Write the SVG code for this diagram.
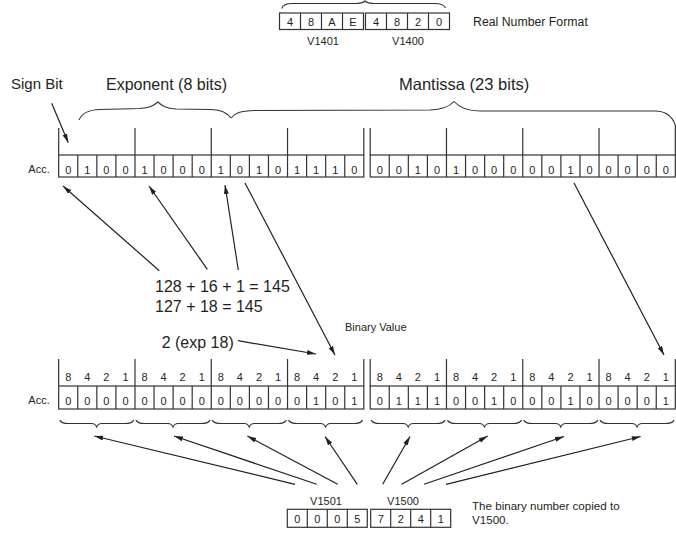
<svg xmlns="http://www.w3.org/2000/svg" width="676" height="535" viewBox="0 0 676 535">
<style>
text{font-family:"Liberation Sans",Arial,sans-serif;fill:#231f20}
.big{font-size:16px}
.sm{font-size:11px}
.d{font-size:11px;text-anchor:middle}
.c{text-anchor:middle}
.box{fill:#fff;stroke:#333;stroke-width:1.2}
.ln{fill:none;stroke:#333;stroke-width:1.2}
.br{fill:none;stroke:#333;stroke-width:1.1}
.ar{fill:none;stroke:#231f20;stroke-width:1.2;marker-end:url(#ah)}
</style>
<defs>
<marker id="ah" viewBox="0 0 10 6" refX="10" refY="3" markerWidth="9" markerHeight="5.5" markerUnits="userSpaceOnUse" orient="auto">
<path d="M0,0.3 L10,3 L0,5.7 z" fill="#231f20"/>
</marker>
<path id="brc" d="M1,0 C2,3 5,3.5 10,3.5 L33,3.5 C36,3.5 37,4.5 38,7 C39,4.5 40,3.5 43,3.5 L66,3.5 C71,3.5 74,3 75,0" class="br"/>
</defs>

<g id="real-format">
<path class="br" d="M281.7,8.5 C283,4.5 286,3.5 292,3.5 L355,3.5 C361,3.5 363,3 365,1 C367,3 369,3.5 375,3.5 L435,3.5 C441,3.5 444,5 445.5,8"/>
<rect class="box" x="279.5" y="13" width="84" height="16.5"/>
<rect class="box" x="365.5" y="13" width="84" height="16.5"/>
<path class="ln" d="M300.5,13V29.5M321.5,13V29.5M342.5,13V29.5M386.5,13V29.5M407.5,13V29.5M428.5,13V29.5"/>
<text class="d" x="290" y="26">4</text><text class="d" x="311" y="26">8</text><text class="d" x="332" y="26">A</text><text class="d" x="353" y="26">E</text>
<text class="d" x="376" y="26">4</text><text class="d" x="397" y="26">8</text><text class="d" x="418" y="26">2</text><text class="d" x="439" y="26">0</text>
<text class="sm c" x="323" y="45">V1401</text>
<text class="sm c" x="408" y="45">V1400</text>
<text x="473" y="26" style="font-size:12.3px">Real Number Format</text>
</g>

<g id="labels-top">
<text x="11" y="89" style="font-size:15px">Sign Bit</text>
<text class="big" x="106" y="90">Exponent (8 bits)</text>
<text x="399" y="90" style="font-size:16.5px">Mantissa (23 bits)</text>
<path class="br" d="M79,120 C82,113 88,110 100,109.5 L140,108.5 C150,108 153,106 158,102 C162,106 166,108.5 176,109 L210,109.5 C222,110 227,113 231,118"/>
<path class="br" d="M231,118 C235,113 240,111 255,110.5 L430,110 C444,109.5 450,106 454,101.5 C458,106 465,111 480,111 L655,111 C665,111 672,116 675.3,125"/>
</g>

<g id="acc-top">
<text class="sm" x="28.3" y="173">Acc.</text>
<path class="ln" d="M58.7,128V155M134.98,128V155M211.26,128V155M287.54,128V155M363.82,128V155M370.2,128V155M446.48,128V155M522.76,128V155M599.04,128V155M675.32,125V155"/>
<rect class="box" x="58.7" y="155" width="305.12" height="22"/>
<rect class="box" x="370.2" y="155" width="305.12" height="22"/>
<path class="ln" d="M77.77,155v22M96.84,155v22M115.91,155v22M134.98,155v22M154.05,155v22M173.12,155v22M192.19,155v22M211.26,155v22M230.33,155v22M249.4,155v22M268.47,155v22M287.54,155v22M306.61,155v22M325.68,155v22M344.75,155v22M389.27,155v22M408.34,155v22M427.41,155v22M446.48,155v22M465.55,155v22M484.62,155v22M503.69,155v22M522.76,155v22M541.83,155v22M560.9,155v22M579.97,155v22M599.04,155v22M618.11,155v22M637.18,155v22M656.25,155v22"/>
<text class="d" y="174"><tspan x="68.24">0</tspan><tspan x="87.31">1</tspan><tspan x="106.38">0</tspan><tspan x="125.45">0</tspan><tspan x="144.52">1</tspan><tspan x="163.59">0</tspan><tspan x="182.66">0</tspan><tspan x="201.73">0</tspan><tspan x="220.8">1</tspan><tspan x="239.87">0</tspan><tspan x="258.94">1</tspan><tspan x="278.01">0</tspan><tspan x="297.08">1</tspan><tspan x="316.15">1</tspan><tspan x="335.22">1</tspan><tspan x="354.29">0</tspan></text>
<text class="d" y="174"><tspan x="379.74">0</tspan><tspan x="398.81">0</tspan><tspan x="417.88">1</tspan><tspan x="436.95">0</tspan><tspan x="456.02">1</tspan><tspan x="475.09">0</tspan><tspan x="494.16">0</tspan><tspan x="513.23">0</tspan><tspan x="532.3">0</tspan><tspan x="551.37">0</tspan><tspan x="570.44">1</tspan><tspan x="589.51">0</tspan><tspan x="608.58">0</tspan><tspan x="627.65">0</tspan><tspan x="646.72">0</tspan><tspan x="665.79">0</tspan></text>
</g>

<g id="equations">
<text class="big" x="155" y="291.5">128 + 16 + 1 = 145</text>
<text class="big" x="155" y="311.5">127 + 18 = 145</text>
<text class="big" x="161.7" y="348">2 (exp 18)</text>
<text class="sm" x="345" y="331">Binary Value</text>
</g>

<g id="acc-bottom">
<text class="sm" x="28.3" y="404">Acc.</text>
<path class="ln" d="M58.7,359V386M134.98,359V386M211.26,359V386M287.54,359V386M363.82,359V386M370.2,359V386M446.48,359V386M522.76,359V386M599.04,359V386M675.32,359V386"/>
<text class="d" y="381"><tspan x="68.24">8</tspan><tspan x="87.31">4</tspan><tspan x="106.38">2</tspan><tspan x="125.45">1</tspan><tspan x="144.52">8</tspan><tspan x="163.59">4</tspan><tspan x="182.66">2</tspan><tspan x="201.73">1</tspan><tspan x="220.8">8</tspan><tspan x="239.87">4</tspan><tspan x="258.94">2</tspan><tspan x="278.01">1</tspan><tspan x="297.08">8</tspan><tspan x="316.15">4</tspan><tspan x="335.22">2</tspan><tspan x="354.29">1</tspan></text>
<text class="d" y="381"><tspan x="379.74">8</tspan><tspan x="398.81">4</tspan><tspan x="417.88">2</tspan><tspan x="436.95">1</tspan><tspan x="456.02">8</tspan><tspan x="475.09">4</tspan><tspan x="494.16">2</tspan><tspan x="513.23">1</tspan><tspan x="532.3">8</tspan><tspan x="551.37">4</tspan><tspan x="570.44">2</tspan><tspan x="589.51">1</tspan><tspan x="608.58">8</tspan><tspan x="627.65">4</tspan><tspan x="646.72">2</tspan><tspan x="665.79">1</tspan></text>
<rect class="box" x="58.7" y="386" width="305.12" height="23"/>
<rect class="box" x="370.2" y="386" width="305.12" height="23"/>
<path class="ln" d="M77.77,386v23M96.84,386v23M115.91,386v23M134.98,386v23M154.05,386v23M173.12,386v23M192.19,386v23M211.26,386v23M230.33,386v23M249.4,386v23M268.47,386v23M287.54,386v23M306.61,386v23M325.68,386v23M344.75,386v23M389.27,386v23M408.34,386v23M427.41,386v23M446.48,386v23M465.55,386v23M484.62,386v23M503.69,386v23M522.76,386v23M541.83,386v23M560.9,386v23M579.97,386v23M599.04,386v23M618.11,386v23M637.18,386v23M656.25,386v23"/>
<text class="d" y="405"><tspan x="68.24">0</tspan><tspan x="87.31">0</tspan><tspan x="106.38">0</tspan><tspan x="125.45">0</tspan><tspan x="144.52">0</tspan><tspan x="163.59">0</tspan><tspan x="182.66">0</tspan><tspan x="201.73">0</tspan><tspan x="220.8">0</tspan><tspan x="239.87">0</tspan><tspan x="258.94">0</tspan><tspan x="278.01">0</tspan><tspan x="297.08">0</tspan><tspan x="316.15">1</tspan><tspan x="335.22">0</tspan><tspan x="354.29">1</tspan></text>
<text class="d" y="405"><tspan x="379.74">0</tspan><tspan x="398.81">1</tspan><tspan x="417.88">1</tspan><tspan x="436.95">1</tspan><tspan x="456.02">0</tspan><tspan x="475.09">0</tspan><tspan x="494.16">1</tspan><tspan x="513.23">0</tspan><tspan x="532.3">0</tspan><tspan x="551.37">0</tspan><tspan x="570.44">1</tspan><tspan x="589.51">0</tspan><tspan x="608.58">0</tspan><tspan x="627.65">0</tspan><tspan x="646.72">0</tspan><tspan x="665.79">1</tspan></text>
<use href="#brc" x="58.7" y="420"/>
<use href="#brc" x="134.98" y="420"/>
<use href="#brc" x="211.26" y="420"/>
<use href="#brc" x="287.54" y="420"/>
<use href="#brc" x="370.2" y="420"/>
<use href="#brc" x="446.48" y="420"/>
<use href="#brc" x="522.76" y="420"/>
<use href="#brc" x="599.04" y="420"/>
</g>

<g id="v1500">
<text class="sm c" x="326" y="505">V1501</text>
<text class="sm c" x="403" y="505">V1500</text>
<rect class="box" x="287.3" y="509.3" width="80" height="18"/>
<rect class="box" x="370.7" y="509.3" width="80" height="18"/>
<path class="ln" d="M307.3,509.3v18M327.3,509.3v18M347.3,509.3v18M390.7,509.3v18M410.7,509.3v18M430.7,509.3v18"/>
<text class="d" y="523"><tspan x="297.3">0</tspan><tspan x="317.3">0</tspan><tspan x="337.3">0</tspan><tspan x="357.3">5</tspan><tspan x="380.7">7</tspan><tspan x="400.7">2</tspan><tspan x="420.7">4</tspan><tspan x="440.7">1</tspan></text>
<text x="472" y="510" style="font-size:11.6px">The binary number copied to</text>
<text x="472" y="523.5" style="font-size:11.6px">V1500.</text>
</g>

<g id="connectors">
<path class="ar" d="M51.7,103.3L68.3,142.7"/>
<path class="ar" d="M159.3,270.7L63,186"/>
<path class="ar" d="M207.3,269.3L149,186"/>
<path class="ar" d="M238.3,270L225,185"/>
<path class="ar" d="M245,183L335,355"/>
<path class="ar" d="M574,183L664,355"/>
<path class="ar" d="M238,340.7L316,354"/>
<path class="ar" d="M295,484.3L94.3,436"/>
<path class="ar" d="M316.7,484.3L174,436"/>
<path class="ar" d="M337.7,484.3L247.3,436"/>
<path class="ar" d="M357.3,484.3L325,436.5"/>
<path class="ar" d="M382.7,484.3L410,436.5"/>
<path class="ar" d="M401.7,484.3L487.7,436"/>
<path class="ar" d="M424,484.3L564,436.5"/>
<path class="ar" d="M446,484.3L640.7,436.5"/>
</g>
</svg>
